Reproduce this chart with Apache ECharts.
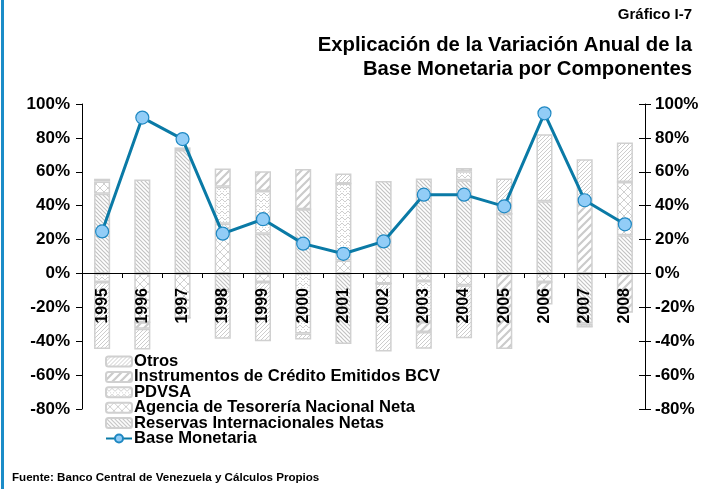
<!DOCTYPE html>
<html><head><meta charset="utf-8">
<script src="https://cdn.jsdelivr.net/npm/echarts@6/dist/echarts.min.js"></script>
<style>html,body{margin:0;padding:0;background:#fff}#c{width:702px;height:489px}</style>
</head><body><div id="c"></div>
<script>
var years = ['1995','1996','1997','1998','1999','2000','2001','2002','2003','2004','2005','2006','2007','2008'];
var reservas     = [47, 55.4, 72.8, -10, 23.5, 37.9, -41.6, 54.6, 56, 55, 35.3, 42.6, -29.5, 22.5];
var agencia      = [7.3, -28.8, -26.2, 29.4, -5, 0, 7.7, -6, -4.5, -7, 0, -5, -2, 31.5];
var pdvsa        = [-5, 0, 0, 21.7, 25.2, -35.5, 45.4, 0, -24.1, 5.3, 0, 0, 0, 0];
var instrumentos = [1.6, -3.9, 0, 10.9, 11.6, 23.7, 0, 0, -6, 2, -44.6, -13.4, 41.2, -23.2];
var otros        = [-39.6, -12.2, 1.6, -28.6, -35, -3.5, 5.9, -40, -9.8, -31.3, 20.7, 39.5, 26.2, 23.3];
var baseMonetaria = [24.8, 92, 79.3, 23.5, 32, 17.6, 11.6, 18.9, 46.5, 46.5, 39.6, 94.5, 43.2, 29];
var yTicks = [-80, -60, -40, -20, 0, 20, 40, 60, 80, 100];

function pat(size, draw) {
  var c = document.createElement('canvas');
  c.width = size; c.height = size;
  var g = c.getContext('2d');
  g.fillStyle = '#ffffff'; g.fillRect(0, 0, size, size);
  draw(g, size);
  return {image: c, repeat: 'repeat'};
}
var grey = '#c2c2c2';
var pReservas = pat(4, function (g, s) {
  g.strokeStyle = grey; g.lineWidth = 1.2;
  g.beginPath(); g.moveTo(0, 0); g.lineTo(s, s); g.moveTo(-s, 0); g.lineTo(s, 2 * s); g.moveTo(0, -s); g.lineTo(2 * s, s); g.stroke();
});
var pInstr = pat(8, function (g, s) {
  g.strokeStyle = '#cbcbcb'; g.lineWidth = 2.2;
  g.beginPath(); g.moveTo(0, s); g.lineTo(s, 0); g.moveTo(-s, s); g.lineTo(s, -s); g.moveTo(0, 2 * s); g.lineTo(2 * s, 0); g.stroke();
});
var pAgencia = pat(8, function (g, s) {
  g.strokeStyle = '#d0d0d0'; g.lineWidth = 1;
  g.beginPath(); g.moveTo(0, 0); g.lineTo(s, s); g.moveTo(s, 0); g.lineTo(0, s); g.stroke();
});
var pPdvsa = pat(6, function (g, s) {
  g.strokeStyle = '#cecece'; g.lineWidth = 1;
  g.beginPath(); g.moveTo(0, 1); g.lineTo(3, 4); g.lineTo(6, 1); g.stroke();
  g.fillStyle = '#d4d4d4'; g.fillRect(1, 5, 1, 1); g.fillRect(4, 5, 1, 1);
});
var pOtros = pat(4, function (g, s) {
  g.fillStyle = '#cdcdcd';
  g.fillRect(0, 0, 1, 1); g.fillRect(2, 2, 1, 1); g.fillRect(1, 3, 1, 1); g.fillRect(3, 1, 1, 1);
});

var font = 'Liberation Sans, Arial, sans-serif';
function barSeries(name, data, p) {
  return {
    name: name, type: 'bar', stack: 'comp', data: data, barWidth: '40%',
    xAxisIndex: 0, yAxisIndex: 0, z: 2,
    itemStyle: {color: p, borderColor: '#d0d0d0', borderWidth: 1.5},
    emphasis: {disabled: true}
  };
}
var chart = echarts.init(document.getElementById('c'), null, {renderer: 'canvas'});
chart.setOption({
  animation: false,
  backgroundColor: '#fff',
  title: [
    {text: 'Gráfico I-7', right: 5, top: 2, textStyle: {fontFamily: font, fontSize: 15, fontWeight: 'bold', color: '#000'}},
    {text: 'Explicación de la Variación Anual de la', right: 5, top: 30, textStyle: {fontFamily: font, fontSize: 20.3, fontWeight: 'bold', color: '#000'}},
    {text: 'Base Monetaria por Componentes', right: 5, top: 54, textStyle: {fontFamily: font, fontSize: 20.3, fontWeight: 'bold', color: '#000'}},
    {text: 'Fuente: Banco Central de Venezuela y Cálculos Propios', left: 7, top: 467, textStyle: {fontFamily: font, fontSize: 11.6, fontWeight: 'bold', color: '#000'}}
  ],
  graphic: [
    {type: 'rect', left: 1, top: 0, shape: {width: 3, height: 489}, style: {fill: '#1b8cc8'}}
  ],
  legend: {
    orient: 'vertical', left: 100, top: 348, itemGap: -1.6, itemWidth: 26, itemHeight: 10,
    data: ['Otros', 'Instrumentos de Crédito Emitidos BCV', 'PDVSA', 'Agencia de Tesorería Nacional Neta', 'Reservas Internacionales Netas', 'Base Monetaria'],
    textStyle: {fontFamily: font, fontSize: 16.6, fontWeight: 'bold', color: '#000', padding: [0, 0, 0, -3]}
  },
  grid: [
    {left: 82, right: 57, top: 104, bottom: 80},
    {left: 82, right: 57, top: 104, bottom: 216}
  ],
  xAxis: [
    {type: 'category', data: years, gridIndex: 0, show: false},
    {type: 'category', data: years, gridIndex: 1, position: 'bottom', z: 5,
      axisLine: {show: true, onZero: false, lineStyle: {color: '#000', width: 1}},
      axisTick: {show: true, length: 5, lineStyle: {color: '#000'}},
      axisLabel: {rotate: 90, margin: 15, fontFamily: font, fontSize: 16, fontWeight: 'bold', color: '#000'}}
  ],
  yAxis: [
    {type: 'value', gridIndex: 0, min: -80, max: 100, interval: 20, position: 'left',
      axisLine: {show: true, onZero: false, lineStyle: {color: '#000'}}, axisTick: {show: true, length: 6, lineStyle: {color: '#000'}},
      splitLine: {show: false},
      axisLabel: {formatter: '{value}%', margin: 12, fontFamily: font, fontSize: 17, fontWeight: 'bold', color: '#000'}},
    {type: 'value', gridIndex: 0, min: -80, max: 100, interval: 20, position: 'right',
      axisLine: {show: true, onZero: false, lineStyle: {color: '#000'}}, axisTick: {show: true, length: 6, lineStyle: {color: '#000'}},
      splitLine: {show: false},
      axisLabel: {formatter: '{value}%', margin: 10, fontFamily: font, fontSize: 17, fontWeight: 'bold', color: '#000'}},
    {type: 'value', gridIndex: 0, min: -80, max: 100, interval: 20, position: 'right',
      axisLine: {show: false, onZero: false}, axisTick: {show: true, inside: true, length: 6, lineStyle: {color: '#000'}},
      splitLine: {show: false}, axisLabel: {show: false}},
    {type: 'value', gridIndex: 1, min: 0, max: 1, show: false}
  ],
  series: [
    barSeries('Reservas Internacionales Netas', reservas, pReservas),
    barSeries('Agencia de Tesorería Nacional Neta', agencia, pAgencia),
    barSeries('PDVSA', pdvsa, pPdvsa),
    barSeries('Instrumentos de Crédito Emitidos BCV', instrumentos, pInstr),
    barSeries('Otros', otros, pOtros),
    {name: 'Base Monetaria', type: 'line', data: baseMonetaria, z: 10,
      xAxisIndex: 0, yAxisIndex: 0,
      symbol: 'circle', symbolSize: 13,
      lineStyle: {color: '#0a7aa6', width: 3},
      itemStyle: {color: '#92cdf7', borderColor: '#1f88c2', borderWidth: 1.2},
      emphasis: {disabled: true}}
  ]
});
</script></body></html>
